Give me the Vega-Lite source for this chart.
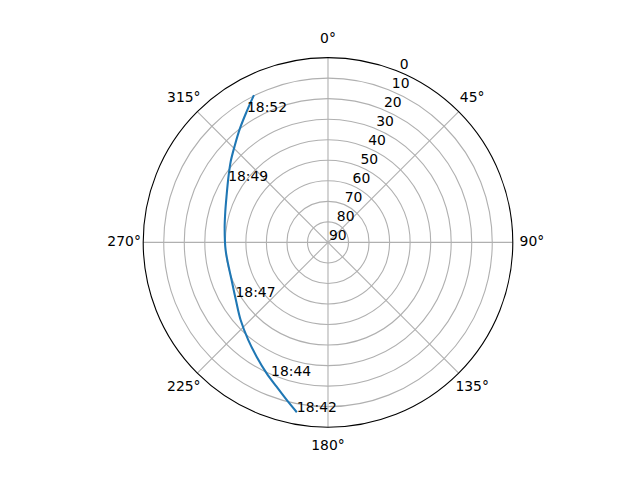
{
  "$schema": "https://vega.github.io/schema/vega-lite/v6.json",
  "width": 640,
  "height": 480,
  "autosize": "none",
  "padding": 0,
  "background": "white",
  "config": {
    "view": {"stroke": null},
    "text": {"font": "DejaVu Sans", "fontSize": 13.9, "color": "black"}
  },
  "datasets": {
    "track": [
      {"seq": 1, "az": 190.4, "el": 5.9},
      {"seq": 2, "az": 194.7, "el": 10.7},
      {"seq": 3, "az": 199.6, "el": 15.4},
      {"seq": 4, "az": 205.1, "el": 19.6},
      {"seq": 5, "az": 212.0, "el": 24.4},
      {"seq": 6, "az": 219.2, "el": 28.6},
      {"seq": 7, "az": 228.4, "el": 33.1},
      {"seq": 8, "az": 238.0, "el": 37.1},
      {"seq": 9, "az": 248.7, "el": 39.6},
      {"seq": 10, "az": 265.7, "el": 40.0},
      {"seq": 11, "az": 277.8, "el": 39.2},
      {"seq": 12, "az": 286.6, "el": 37.8},
      {"seq": 13, "az": 295.1, "el": 35.5},
      {"seq": 14, "az": 302.7, "el": 32.3},
      {"seq": 15, "az": 309.7, "el": 28.4},
      {"seq": 16, "az": 316.3, "el": 24.4},
      {"seq": 17, "az": 322.4, "el": 19.8},
      {"seq": 18, "az": 328.1, "el": 15.0},
      {"seq": 19, "az": 333.3, "el": 9.7}
    ],
    "times": [
      {"time": "18:42", "az": 190.4, "el": 5.9},
      {"time": "18:44", "az": 203.1, "el": 19.3},
      {"time": "18:47", "az": 239.3, "el": 37.6},
      {"time": "18:49", "az": 301.6, "el": 32.9},
      {"time": "18:52", "az": 328.2, "el": 15.1}
    ],
    "rings": [
      {"zd": 10}, {"zd": 20}, {"zd": 30}, {"zd": 40},
      {"zd": 50}, {"zd": 60}, {"zd": 70}, {"zd": 80}
    ],
    "outer": [{"zd": 90}],
    "spokes": [
      {"az": 0, "label": "0°"}, {"az": 45, "label": "45°"},
      {"az": 90, "label": "90°"}, {"az": 135, "label": "135°"},
      {"az": 180, "label": "180°"}, {"az": 225, "label": "225°"},
      {"az": 270, "label": "270°"}, {"az": 315, "label": "315°"}
    ],
    "rticks": [
      {"el": 0}, {"el": 10}, {"el": 20}, {"el": 30}, {"el": 40},
      {"el": 50}, {"el": 60}, {"el": 70}, {"el": 80}, {"el": 90}
    ]
  },
  "layer": [
    {
      "data": {"name": "rings"},
      "mark": {"type": "arc", "theta": 0, "theta2": 6.2832, "fillOpacity": 0, "stroke": "#b0b0b0", "strokeWidth": 1.1},
      "encoding": {
        "x": {"datum": 0, "type": "quantitative", "scale": {"domain": [-159.74, 151.95], "nice": false, "zero": false}, "axis": null},
        "y": {"datum": 0, "type": "quantitative", "scale": {"domain": [-115.71, 118.05], "nice": false, "zero": false}, "axis": null},
        "radius": {"field": "zd", "type": "quantitative", "stack": null, "scale": {"type": "linear", "domain": [0, 90], "range": [0, 184.8], "zero": true}}
      }
    },
    {
      "data": {"name": "spokes"},
      "transform": [
        {"calculate": "90 * sin(datum.az * PI / 180)", "as": "x"},
        {"calculate": "90 * cos(datum.az * PI / 180)", "as": "y"}
      ],
      "mark": {"type": "rule", "color": "#b0b0b0", "strokeWidth": 1.1},
      "encoding": {
        "x": {"field": "x", "type": "quantitative", "scale": {"domain": [-159.74, 151.95], "nice": false, "zero": false}, "axis": null},
        "y": {"field": "y", "type": "quantitative", "scale": {"domain": [-115.71, 118.05], "nice": false, "zero": false}, "axis": null},
        "x2": {"datum": 0},
        "y2": {"datum": 0}
      }
    },
    {
      "data": {"name": "track"},
      "transform": [
        {"calculate": "(90 - datum.el) * sin(datum.az * PI / 180)", "as": "x"},
        {"calculate": "(90 - datum.el) * cos(datum.az * PI / 180)", "as": "y"}
      ],
      "mark": {"type": "line", "color": "#1f77b4", "strokeWidth": 2.08, "interpolate": "catmull-rom"},
      "encoding": {
        "x": {"field": "x", "type": "quantitative", "scale": {"domain": [-159.74, 151.95], "nice": false, "zero": false}, "axis": null},
        "y": {"field": "y", "type": "quantitative", "scale": {"domain": [-115.71, 118.05], "nice": false, "zero": false}, "axis": null},
        "order": {"field": "seq", "type": "quantitative"}
      }
    },
    {
      "data": {"name": "outer"},
      "mark": {"type": "arc", "theta": 0, "theta2": 6.2832, "fillOpacity": 0, "stroke": "black", "strokeWidth": 1.1},
      "encoding": {
        "x": {"datum": 0, "type": "quantitative", "scale": {"domain": [-159.74, 151.95], "nice": false, "zero": false}, "axis": null},
        "y": {"datum": 0, "type": "quantitative", "scale": {"domain": [-115.71, 118.05], "nice": false, "zero": false}, "axis": null},
        "radius": {"field": "zd", "type": "quantitative", "stack": null, "scale": {"type": "linear", "domain": [0, 90], "range": [0, 184.8], "zero": true}}
      }
    },
    {
      "data": {"name": "spokes"},
      "transform": [
        {"calculate": "99.3 * sin(datum.az * PI / 180)", "as": "x"},
        {"calculate": "99.3 * cos(datum.az * PI / 180)", "as": "y"}
      ],
      "mark": {"type": "text", "align": "center", "baseline": "middle"},
      "encoding": {
        "x": {"field": "x", "type": "quantitative", "scale": {"domain": [-159.74, 151.95], "nice": false, "zero": false}, "axis": null},
        "y": {"field": "y", "type": "quantitative", "scale": {"domain": [-115.71, 118.05], "nice": false, "zero": false}, "axis": null},
        "text": {"field": "label", "type": "nominal"}
      }
    },
    {
      "data": {"name": "rticks"},
      "transform": [
        {"calculate": "(90 - datum.el) * sin(22.5 * PI / 180)", "as": "x"},
        {"calculate": "(90 - datum.el) * cos(22.5 * PI / 180)", "as": "y"}
      ],
      "mark": {"type": "text", "align": "left", "baseline": "alphabetic", "dx": 1, "dy": -2.5},
      "encoding": {
        "x": {"field": "x", "type": "quantitative", "scale": {"domain": [-159.74, 151.95], "nice": false, "zero": false}, "axis": null},
        "y": {"field": "y", "type": "quantitative", "scale": {"domain": [-115.71, 118.05], "nice": false, "zero": false}, "axis": null},
        "text": {"field": "el", "type": "quantitative"}
      }
    },
    {
      "data": {"name": "times"},
      "transform": [
        {"calculate": "(90 - datum.el) * sin(datum.az * PI / 180)", "as": "x"},
        {"calculate": "(90 - datum.el) * cos(datum.az * PI / 180)", "as": "y"}
      ],
      "mark": {"type": "text", "align": "left", "baseline": "alphabetic"},
      "encoding": {
        "x": {"field": "x", "type": "quantitative", "scale": {"domain": [-159.74, 151.95], "nice": false, "zero": false}, "axis": null},
        "y": {"field": "y", "type": "quantitative", "scale": {"domain": [-115.71, 118.05], "nice": false, "zero": false}, "axis": null},
        "text": {"field": "time", "type": "nominal"}
      }
    }
  ]
}
